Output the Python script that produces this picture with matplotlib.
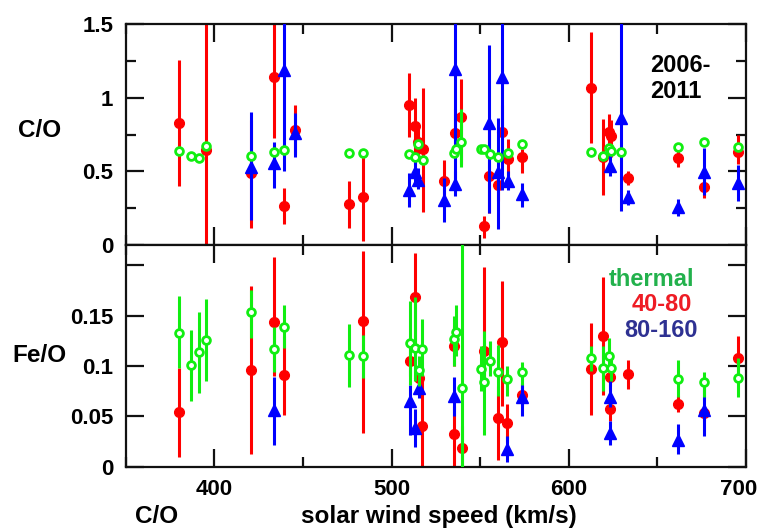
import matplotlib
matplotlib.use("Agg")
import matplotlib.pyplot as plt
import matplotlib.transforms as mtransforms
import numpy as np
from matplotlib.ticker import MultipleLocator, FixedLocator, FixedFormatter

plt.rcParams['font.family'] = ['Liberation Sans', 'DejaVu Sans']
plt.rcParams['font.weight'] = 'bold'

# ---------------- C/O ----------------
# thermal
co_th_x  = [380.2, 387.0, 391.1, 395.5, 420.7, 433.9, 439.2, 475.9, 484.0, 509.8, 513.4, 515.2, 517.7,
            535.2, 536.6, 539.2, 550.3, 552.1, 555.4, 560.3, 565.9, 573.8, 612.4, 619.4, 622.6, 624.0,
            629.4, 661.4, 676.4, 695.3]
co_th_v  = [0.635, 0.606, 0.588, 0.672, 0.606, 0.633, 0.645, 0.627, 0.622, 0.616, 0.600, 0.686, 0.577,
            0.627, 0.650, 0.700, 0.650, 0.650, 0.618, 0.600, 0.627, 0.686, 0.633, 0.606, 0.660, 0.640,
            0.633, 0.667, 0.697, 0.667]
co_th_lo = [0.62, 0.59, 0.57, 0.65, 0.59, 0.62, 0.63, 0.61, 0.61, 0.60, 0.58, 0.67, 0.56,
            0.61, 0.63, 0.53, 0.63, 0.63, 0.60, 0.58, 0.61, 0.67, 0.62, 0.59, 0.64, 0.62,
            0.62, 0.65, 0.68, 0.65]
co_th_hi = [0.65, 0.62, 0.61, 0.69, 0.62, 0.65, 0.66, 0.64, 0.64, 0.63, 0.62, 0.70, 0.59,
            0.64, 0.67, 0.92, 0.67, 0.67, 0.64, 0.62, 0.64, 0.70, 0.65, 0.62, 0.68, 0.66,
            0.65, 0.68, 0.71, 0.68]

# 40-80 keV/n
co_r_x  = [380.2, 395.5, 420.7, 433.9, 439.2, 445.4, 475.9, 484.0, 509.8, 513.2, 515.1, 517.7, 529.6,
           535.8, 539.0, 552.2, 555.0, 560.3, 562.1, 565.9, 573.8, 612.4, 619.4, 622.6, 624.0, 633.2,
           661.4, 676.4, 695.3]
co_r_v  = [0.826, 0.645, 0.487, 1.138, 0.267, 0.780, 0.278, 0.328, 0.950, 0.808, 0.700, 0.650, 0.437,
           0.762, 0.871, 0.129, 0.468, 0.407, 0.770, 0.582, 0.600, 1.068, 0.600, 0.770, 0.740, 0.453,
           0.588, 0.396, 0.633]
co_r_lo = [0.40, 0.00, 0.115, 0.726, 0.14, 0.62, 0.117, 0.03, 0.735, 0.55, 0.60, 0.226, 0.33,
           0.60, 0.55, 0.05, 0.22, 0.30, 0.60, 0.40, 0.49, 0.69, 0.34, 0.60, 0.60, 0.41,
           0.53, 0.32, 0.55]
co_r_hi = [1.256, 1.70, 0.85, 1.70, 0.39, 0.95, 0.434, 0.60, 1.166, 0.996, 0.82, 1.064, 0.577,
           0.92, 1.13, 0.20, 0.85, 0.50, 0.95, 0.72, 0.65, 1.444, 0.855, 0.89, 0.85, 0.50,
           0.65, 0.48, 0.75]

# 80-160 keV/n
co_b_x  = [420.7, 433.9, 439.2, 445.4, 509.8, 513.2, 515.1, 529.6, 535.8, 535.9, 555.0, 560.3, 562.1,
           565.9, 573.8, 623.3, 629.4, 633.2, 661.4, 676.4, 695.3]
co_b_v  = [0.530, 0.555, 1.188, 0.758, 0.373, 0.498, 0.441, 0.306, 1.193, 0.414, 0.826, 0.498, 1.138,
           0.434, 0.346, 0.536, 0.860, 0.324, 0.256, 0.493, 0.419]
co_b_lo = [0.17, 0.39, 0.50, 0.60, 0.26, 0.40, 0.38, 0.158, 0.40, 0.33, 0.22, 0.11, 0.373,
           0.37, 0.26, 0.47, 0.23, 0.27, 0.20, 0.34, 0.30]
co_b_hi = [0.90, 0.70, 1.70, 0.896, 0.49, 0.58, 0.52, 0.453, 1.70, 0.50, 1.358, 0.86, 1.70,
           0.50, 0.42, 0.62, 1.70, 0.37, 0.31, 0.656, 0.54]

# ---------------- Fe/O ----------------
fe_th_x  = [380.2, 387.0, 391.1, 395.5, 420.7, 433.9, 439.2, 475.9, 484.0, 510.2, 513.4, 515.3, 517.3,
            535.2, 536.6, 539.5, 550.3, 552.2, 555.4, 560.3, 565.4, 573.8, 612.4, 619.4, 622.6, 624.0,
            661.4, 676.4, 695.3]
fe_th_v  = [0.1323, 0.101, 0.114, 0.126, 0.154, 0.1165, 0.139, 0.111, 0.110, 0.1225, 0.1175, 0.096, 0.1168,
            0.1264, 0.134, 0.0785, 0.0967, 0.0845, 0.105, 0.0937, 0.0868, 0.0937, 0.1076, 0.0977, 0.110, 0.0977,
            0.0871, 0.0838, 0.0878]
fe_th_lo = [0.098, 0.065, 0.073, 0.085, 0.128, 0.094, 0.1175, 0.0795, 0.088, 0.081, 0.085, 0.080, 0.090,
            0.100, 0.110, -0.01, 0.075, 0.0317, 0.090, 0.070, 0.070, 0.081, 0.095, 0.0755, 0.095, 0.085,
            0.0695, 0.0696, 0.0695]
fe_th_hi = [0.169, 0.136, 0.154, 0.166, 0.175, 0.139, 0.160, 0.1416, 0.131, 0.164, 0.1686, 0.110, 0.147,
            0.150, 0.160, 0.250, 0.120, 0.1347, 0.125, 0.121, 0.100, 0.104, 0.120, 0.1198, 0.128, 0.110,
            0.1063, 0.094, 0.1076]

fe_r_x  = [380.2, 420.7, 433.9, 439.2, 484.0, 510.2, 513.2, 515.5, 517.3, 535.2, 535.4, 539.5, 552.2,
           560.3, 562.1, 565.4, 573.8, 612.4, 619.4, 623.3, 623.4, 633.6, 661.4, 676.4, 695.3]
fe_r_v  = [0.054, 0.096, 0.144, 0.091, 0.1446, 0.105, 0.1686, 0.0878, 0.040, 0.120, 0.0323, 0.0185, 0.1149,
           0.0482, 0.1234, 0.0432, 0.0713, 0.097, 0.1297, 0.0894, 0.0574, 0.0918, 0.0624, 0.0531, 0.1076]
fe_r_lo = [0.010, 0.013, 0.090, 0.0515, 0.033, 0.090, 0.120, 0.080, -0.01, 0.100, -0.01, -0.01, 0.080,
           0.007, 0.060, 0.025, 0.060, 0.0515, 0.071, 0.080, 0.045, 0.077, 0.0545, 0.045, 0.090]
fe_r_hi = [0.098, 0.179, 0.208, 0.130, 0.214, 0.120, 0.2116, 0.095, 0.085, 0.140, 0.060, 0.040, 0.198,
           0.080, 0.184, 0.0625, 0.080, 0.143, 0.188, 0.100, 0.070, 0.1063, 0.070, 0.060, 0.130]

fe_b_x  = [433.9, 510.2, 513.2, 515.5, 535.2, 565.4, 573.8, 623.3, 623.4, 661.4, 676.4]
fe_b_v  = [0.0564, 0.0647, 0.038, 0.078, 0.0706, 0.0178, 0.0696, 0.0696, 0.0333, 0.0267, 0.0564]
fe_b_lo = [0.022, 0.031, 0.020, 0.068, 0.050, 0.005, 0.050, 0.0597, 0.022, 0.0125, 0.030]
fe_b_hi = [0.089, 0.081, 0.0576, 0.088, 0.089, 0.030, 0.083, 0.085, 0.045, 0.042, 0.080]

speed_ticks = [400, 500, 600, 700]

RED, GREEN, BLUE = '#ff0000', '#11ee11', '#0000ff'

fig = plt.figure(figsize=(7.62, 5.31), dpi=100)
ax1 = fig.add_axes([0.165, 0.5386, 0.814, 0.4162])
ax2 = fig.add_axes([0.165, 0.1211, 0.814, 0.4175])


def draw(ax, x, v, lo, hi, color, marker, z, **kw):
    x = np.asarray(x); v = np.asarray(v)
    yerr = [v - np.asarray(lo), np.asarray(hi) - v]
    ax.errorbar(x, v, yerr=yerr, fmt=marker, color=color, ecolor=color,
                elinewidth=2.2, capsize=0, zorder=z, **kw)


for ax, data in [(ax1, (co_r_x, co_r_v, co_r_lo, co_r_hi, co_b_x, co_b_v, co_b_lo, co_b_hi,
                        co_th_x, co_th_v, co_th_lo, co_th_hi)),
                 (ax2, (fe_r_x, fe_r_v, fe_r_lo, fe_r_hi, fe_b_x, fe_b_v, fe_b_lo, fe_b_hi,
                        fe_th_x, fe_th_v, fe_th_lo, fe_th_hi))]:
    rx, rv, rlo, rhi, bx, bv, blo, bhi, gx, gv, glo, ghi = data
    draw(ax, rx, rv, rlo, rhi, RED, 'o', 2, ms=7)
    draw(ax, bx, bv, blo, bhi, BLUE, '^', 3, ms=8)
    draw(ax, gx, gv, glo, ghi, GREEN, 'o', 4, ms=5.6, mfc='white', mec=GREEN, mew=2.0)

for ax in (ax1, ax2):
    ax.set_xlim(350, 700)
    ax.xaxis.set_major_locator(MultipleLocator(100))
    ax.xaxis.set_minor_locator(MultipleLocator(50))
    ax.tick_params(which='both', direction='in', top=True, right=True, width=1.6, color='#111111')
    ax.tick_params(which='major', length=13, labelsize=16, pad=9)
    ax.tick_params(which='minor', length=7)
    for s in ax.spines.values():
        s.set_linewidth(1.6)
        s.set_color('#111111')
    for lab in ax.get_xticklabels() + ax.get_yticklabels():
        lab.set_fontweight('bold')

ax1.set_ylim(0, 1.5)
ax1.yaxis.set_major_locator(FixedLocator([0, 0.5, 1.0, 1.5]))
ax1.yaxis.set_major_formatter(FixedFormatter(['0', '0.5', '1', '1.5']))
ax1.yaxis.set_minor_locator(MultipleLocator(0.25))
ax1.tick_params(axis='x', labelbottom=False)

ax2.set_ylim(0, 0.22)
ax2.yaxis.set_major_locator(FixedLocator([0, 0.05, 0.1, 0.15, 0.2]))
ax2.yaxis.set_major_formatter(FixedFormatter(['0', '0.05', '0.1', '0.15', '']))
ax2.set_xticks(speed_ticks)
ax2.set_xticklabels([str(t) for t in speed_ticks], fontweight='bold')

# keep the rightmost speed label inside the canvas
last = ax2.get_xticklabels()[-1]
last.set_transform(last.get_transform() +
                   mtransforms.ScaledTranslation(-5 / 72, 0, fig.dpi_scale_trans))

fig.text(0.052, 0.755, 'C/O', fontsize=17.5, fontweight='bold', ha='center', va='center')
fig.text(0.052, 0.331, 'Fe/O', fontsize=17.5, fontweight='bold', ha='center', va='center')
fig.text(0.205, 0.028, 'C/O', fontsize=17.5, fontweight='bold', ha='center', va='center')
fig.text(0.576, 0.028, 'solar wind speed (km/s)', fontsize=17.5, fontweight='bold',
         ha='center', va='center')

fig.text(0.853, 0.877, '2006-', fontsize=17, fontweight='bold', ha='left', va='center')
fig.text(0.853, 0.827, '2011', fontsize=17, fontweight='bold', ha='left', va='center')

fig.text(0.855, 0.474, 'thermal', color='#22b14c', fontsize=17, fontweight='bold',
         ha='center', va='center')
fig.text(0.868, 0.427, '40-80', color='#ee1c24', fontsize=17, fontweight='bold',
         ha='center', va='center')
fig.text(0.867, 0.377, '80-160', color='#2e3192', fontsize=17, fontweight='bold',
         ha='center', va='center')

fig.savefig('out.png', dpi=100, facecolor='white')
